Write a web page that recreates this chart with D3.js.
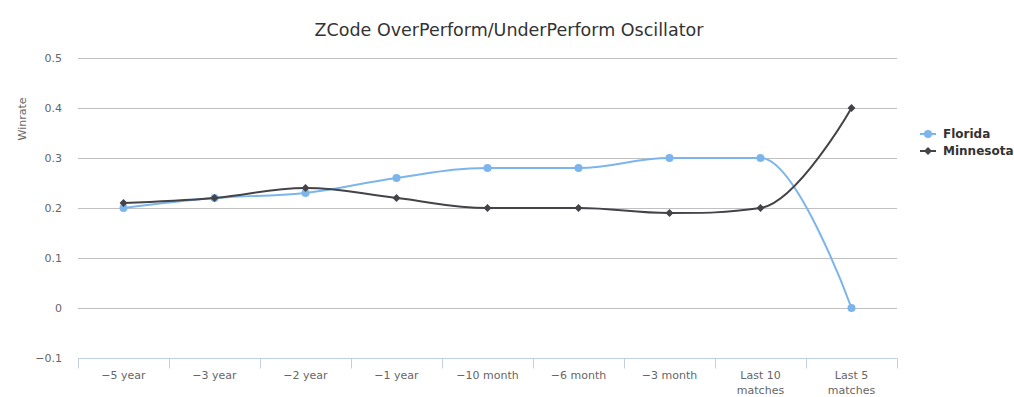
<!DOCTYPE html>
<html>
<head>
<meta charset="utf-8">
<script src="https://cdn.jsdelivr.net/npm/d3@7"></script>
<style>
  body { margin: 0; background: #fff; }
  svg { display: block; font-family: "DejaVu Sans", Verdana, sans-serif; }
</style>
</head>
<body>
<div id="chart"></div>
<script>
// data
const categories = ["-5 year", "-3 year", "-2 year", "-1 year", "-10 month", "-6 month", "-3 month", "Last 10 matches", "Last 5 matches"];
const florida = [0.2, 0.22, 0.23, 0.26, 0.28, 0.28, 0.3, 0.3, 0];
const minnesota = [0.21, 0.22, 0.24, 0.22, 0.2, 0.2, 0.19, 0.2, 0.4];
const yTicks = [-0.1, 0, 0.1, 0.2, 0.3, 0.4, 0.5];

const width = 1014, height = 397;
const margin = { top: 58, bottom: 39, left: 78, right: 117 };

const svg = d3.select("#chart").append("svg")
  .attr("width", width).attr("height", height);

const x = d3.scaleBand()
  .domain(categories)
  .range([margin.left, width - margin.right]);

const y = d3.scaleLinear()
  .domain([-0.1, 0.5])
  .range([height - margin.bottom, margin.top]);

// title
svg.append("text")
  .attr("x", 509).attr("y", 36)
  .attr("text-anchor", "middle")
  .style("font-size", "17.5px")
  .style("fill", "#333333")
  .text("ZCode OverPerform/UnderPerform Oscillator");

// grid lines
svg.append("g")
  .selectAll("line")
  .data(yTicks.filter(d => d !== -0.1))
  .join("line")
  .attr("x1", margin.left).attr("x2", width - margin.right)
  .attr("y1", d => Math.round(y(d)) + 0.5).attr("y2", d => Math.round(y(d)) + 0.5)
  .attr("stroke", "#c0c0c0").attr("stroke-width", 1);

// y labels
svg.append("g")
  .selectAll("text")
  .data(yTicks)
  .join("text")
  .attr("x", 62).attr("y", d => y(d) + 4)
  .attr("text-anchor", "end")
  .style("font-size", "11px")
  .style("fill", "#666666")
  .text(d => d3.format("")(+d.toFixed(1)));

// y axis title
svg.append("text")
  .attr("transform", "translate(26,119) rotate(-90)")
  .attr("text-anchor", "middle")
  .style("font-size", "11px")
  .style("fill", "#666666")
  .text("Winrate");

// x axis
const x0 = height - margin.bottom + 0.5;
svg.append("line")
  .attr("x1", margin.left).attr("x2", width - margin.right)
  .attr("y1", x0).attr("y2", x0)
  .attr("stroke", "#c0d0e0");

const tickPos = categories.map(c => x(c)).concat([x.range()[1]]);
svg.append("g")
  .selectAll("line")
  .data(tickPos)
  .join("line")
  .attr("x1", d => Math.round(d) + 0.5).attr("x2", d => Math.round(d) + 0.5)
  .attr("y1", x0).attr("y2", x0 + 10)
  .attr("stroke", "#c0d0e0");

const xl = svg.append("g")
  .selectAll("text")
  .data(categories)
  .join("text")
  .attr("x", d => x(d) + x.bandwidth() / 2)
  .attr("y", 379)
  .attr("text-anchor", "middle")
  .style("font-size", "11px")
  .style("fill", "#666666");

xl.each(function (d) {
  const m = d.match(/^(Last \d+) (matches)$/);
  const t = d3.select(this);
  if (m) {
    t.append("tspan").attr("x", x(d) + x.bandwidth() / 2).text(m[1]);
    t.append("tspan").attr("x", x(d) + x.bandwidth() / 2).attr("dy", 15).text(m[2]);
  } else {
    t.text(d.replace("-", "\u2212"));
  }
});

// highcharts-like spline
function splinePath(pts) {
  const smoothing = 1.5, denom = smoothing + 1;
  const ctrl = pts.map((p, i) => {
    if (i === 0 || i === pts.length - 1) return null;
    const last = pts[i - 1], next = pts[i + 1];
    let lcx = (smoothing * p[0] + last[0]) / denom;
    let lcy = (smoothing * p[1] + last[1]) / denom;
    let rcx = (smoothing * p[0] + next[0]) / denom;
    let rcy = (smoothing * p[1] + next[1]) / denom;
    let corr = 0;
    if (rcx !== lcx) corr = ((rcy - lcy) * (rcx - p[0])) / (rcx - lcx) + p[1] - rcy;
    lcy += corr; rcy += corr;
    if (lcy > last[1] && lcy > p[1]) { lcy = Math.max(last[1], p[1]); rcy = 2 * p[1] - lcy; }
    else if (lcy < last[1] && lcy < p[1]) { lcy = Math.min(last[1], p[1]); rcy = 2 * p[1] - lcy; }
    if (rcy > next[1] && rcy > p[1]) { rcy = Math.max(next[1], p[1]); lcy = 2 * p[1] - rcy; }
    else if (rcy < next[1] && rcy < p[1]) { rcy = Math.min(next[1], p[1]); lcy = 2 * p[1] - rcy; }
    return { lcx, lcy, rcx, rcy };
  });
  const path = d3.path();
  path.moveTo(pts[0][0], pts[0][1]);
  for (let i = 1; i < pts.length; i++) {
    const a = ctrl[i - 1], b = ctrl[i];
    path.bezierCurveTo(
      a ? a.rcx : pts[i - 1][0], a ? a.rcy : pts[i - 1][1],
      b ? b.lcx : pts[i][0], b ? b.lcy : pts[i][1],
      pts[i][0], pts[i][1]);
  }
  return path.toString();
}

const series = [
  { name: "Florida", data: florida, color: "#7cb5ec", symbol: d3.symbolCircle, size: 50 },
  { name: "Minnesota", data: minnesota, color: "#434348", symbol: d3.symbolDiamond2, size: 40 }
];

series.forEach(s => {
  const pts = s.data.map((v, i) => [x(categories[i]) + x.bandwidth() / 2, y(v)]);
  svg.append("path")
    .attr("d", splinePath(pts))
    .attr("fill", "none")
    .attr("stroke", s.color)
    .attr("stroke-width", 2)
    .attr("stroke-linejoin", "round");
  svg.append("g")
    .selectAll("path")
    .data(pts)
    .join("path")
    .attr("transform", d => `translate(${d[0]},${d[1]})`)
    .attr("d", d3.symbol(s.symbol, s.size))
    .attr("fill", s.color);
});

// legend
const legend = svg.append("g");
series.forEach((s, i) => {
  const ly = 134 + i * 17;
  legend.append("line")
    .attr("x1", 920).attr("x2", 936)
    .attr("y1", ly).attr("y2", ly)
    .attr("stroke", s.color).attr("stroke-width", 2);
  legend.append("path")
    .attr("transform", `translate(928,${ly})`)
    .attr("d", d3.symbol(s.symbol, s.size))
    .attr("fill", s.color);
  legend.append("text")
    .attr("x", 943).attr("y", ly + 4)
    .style("font-size", "12px")
    .style("font-weight", "bold")
    .style("fill", "#333333")
    .text(s.name);
});
</script>
</body>
</html>
